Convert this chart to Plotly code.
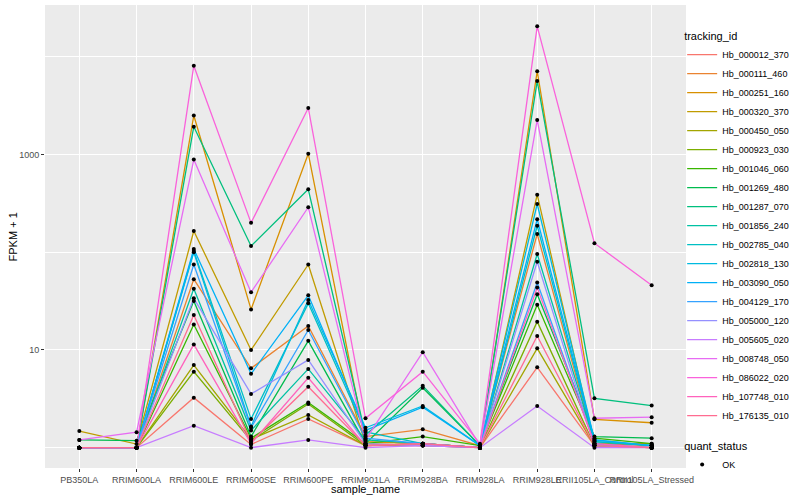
import plotly.graph_objects as go

samples = ["PB350LA", "RRIM600LA", "RRIM600LE", "RRIM600SE", "RRIM600PE", "RRIM901LA",
           "RRIM928BA", "RRIM928LA", "RRIM928LE", "RRII105LA_Control", "RRII105LA_Stressed"]

tracking_ids = ["Hb_000012_370", "Hb_000111_460", "Hb_000251_160", "Hb_000320_370", "Hb_000450_050",
                "Hb_000923_030", "Hb_001046_060", "Hb_001269_480", "Hb_001287_070", "Hb_001856_240",
                "Hb_002785_040", "Hb_002818_130", "Hb_003090_050", "Hb_004129_170", "Hb_005000_120",
                "Hb_005605_020", "Hb_008748_050", "Hb_086022_020", "Hb_107748_010", "Hb_176135_010"]

colors = ["#F8766D", "#EA8331", "#D89000", "#C09B00", "#A3A500", "#7CAE00", "#39B600", "#00BB4E",
          "#00BF7D", "#00C1A3", "#00BFC4", "#00BAE0", "#00B0F6", "#35A2FF", "#9590FF", "#C77CFF",
          "#E76BF3", "#FA62DB", "#FF62BC", "#FF6C91"]

# FPKM + 1 per sample (order of `samples`)
hb_000012_370 = [1.0, 1.0, 3.25, 1.08, 1.97, 1.05, 1.05, 1.0, 6.65, 1.05, 1.0]
hb_000111_460 = [1.0, 1.0, 53, 6.5, 17.6, 1.3, 1.54, 1.05, 154, 1.1, 1.05]
hb_000251_160 = [1.0, 1.0, 2510, 26, 1020, 1.15, 1.1, 1.0, 7130, 1.95, 1.8]
hb_000320_370 = [1.48, 1.09, 165, 10, 75, 1.1, 1.05, 1.0, 389, 1.1, 1.1]
hb_000450_050 = [1.0, 1.0, 7.0, 1.22, 2.16, 1.05, 1.1, 1.0, 10.4, 1.05, 1.0]
hb_000923_030 = [1.0, 1.0, 6.0, 1.18, 2.8, 1.05, 1.1, 1.0, 19.5, 1.05, 1.0]
hb_001046_060 = [1.0, 1.0, 18.2, 1.25, 2.9, 1.1, 1.3, 1.05, 29, 1.25, 1.1]
hb_001269_480 = [1.2, 1.18, 31.7, 1.3, 12.4, 1.1, 4.1, 1.05, 37.2, 1.3, 1.25]
hb_001287_070 = [1.0, 1.0, 1930, 116, 441, 1.35, 4.3, 1.05, 5660, 3.2, 2.7]
hb_001856_240 = [1.0, 1.0, 42.4, 1.5, 6.4, 1.2, 1.1, 1.0, 96, 1.15, 1.05]
hb_002785_040 = [1.0, 1.0, 103, 1.97, 30, 1.45, 1.1, 1.0, 187, 1.15, 1.05]
hb_002818_130 = [1.0, 1.0, 100, 1.65, 32.5, 1.6, 2.67, 1.05, 312, 1.2, 1.05]
hb_003090_050 = [1.0, 1.0, 108, 5.7, 36.3, 1.5, 2.6, 1.05, 218, 1.2, 1.05]
hb_004129_170 = [1.0, 1.0, 75, 1.6, 16, 1.25, 1.1, 1.0, 49, 1.1, 1.0]
hb_005000_120 = [1.0, 1.0, 33.8, 3.55, 7.9, 1.1, 1.05, 1.0, 80, 1.05, 1.0]
hb_005605_020 = [1.0, 1.0, 1.68, 1.0, 1.2, 1.0, 1.05, 1.0, 2.67, 1.0, 1.0]
hb_008748_050 = [1.2, 1.44, 890, 39, 289, 1.2, 9.5, 1.05, 2260, 2.0, 2.05]
hb_086022_020 = [1.0, 1.0, 8130, 200, 3000, 2.0, 6.0, 1.1, 20560, 124, 46]
hb_107748_010 = [1.0, 1.0, 11.4, 1.1, 5.2, 1.05, 1.1, 1.0, 43.5, 1.1, 1.0]
hb_176135_010 = [1.0, 1.0, 22.8, 1.14, 4.2, 1.05, 1.1, 1.0, 13.9, 1.05, 1.0]

series = [hb_000012_370, hb_000111_460, hb_000251_160, hb_000320_370, hb_000450_050,
          hb_000923_030, hb_001046_060, hb_001269_480, hb_001287_070, hb_001856_240,
          hb_002785_040, hb_002818_130, hb_003090_050, hb_004129_170, hb_005000_120,
          hb_005605_020, hb_008748_050, hb_086022_020, hb_107748_010, hb_176135_010]

FONT = "Liberation Sans"
fig = go.Figure()

for name, col, vals in zip(tracking_ids, colors, series):
    fig.add_trace(go.Scatter(
        x=samples, y=vals, mode="lines", name=name,
        line=dict(color=col, width=1.3), legend="legend"))

all_x = [s for _ in series for s in samples]
all_y = [v for vals in series for v in vals]
fig.add_trace(go.Scatter(
    x=all_x, y=all_y, mode="markers", name="OK",
    marker=dict(color="black", size=4, symbol="circle"), legend="legend2"))

fig.update_layout(
    width=800, height=500,
    margin=dict(l=45, r=114, t=5, b=32, autoexpand=False),
    plot_bgcolor="#EBEBEB", paper_bgcolor="white",
    font=dict(family=FONT, color="black"),
    xaxis=dict(
        type="category", categoryorder="array", categoryarray=samples,
        range=[-0.6, len(samples) - 0.4], automargin=False,
        showgrid=True, gridcolor="white", gridwidth=1.1,
        zeroline=False, showline=False,
        ticks="outside", ticklen=3, tickwidth=1, tickcolor="#333333",
        tickangle=0, tickfont=dict(size=9, color="#4D4D4D", family=FONT),
    ),
    yaxis=dict(
        type="log", range=[-0.208, 4.531], automargin=False,
        tickmode="array", tickvals=[10, 1000], ticktext=["10", "1000"],
        showgrid=True, gridcolor="white", gridwidth=1.1,
        minor=dict(tickmode="array", tickvals=[1, 100, 10000], showgrid=True,
                   gridcolor="white", gridwidth=0.55, ticks=""),
        zeroline=False, showline=False,
        ticks="outside", ticklen=3, tickwidth=1, tickcolor="#333333",
        tickfont=dict(size=9, color="#4D4D4D", family=FONT),
    ),
    legend=dict(
        x=0.994, xanchor="left", y=0.955, yanchor="top",
        title=dict(text="tracking_id", font=dict(size=11, family=FONT)),
        font=dict(size=9, family=FONT), bgcolor="rgba(0,0,0,0)",
        itemwidth=30, tracegroupgap=0,
    ),
    legend2=dict(
        x=0.994, xanchor="left", y=0.07, yanchor="top",
        title=dict(text="quant_status", font=dict(size=11, family=FONT)),
        font=dict(size=9, family=FONT), bgcolor="rgba(0,0,0,0)",
        itemwidth=30,
    ),
    annotations=[
        dict(text="sample_name", xref="paper", yref="paper", x=0.5, y=-0.046,
             xanchor="center", yanchor="middle", showarrow=False,
             font=dict(size=11, family=FONT, color="black")),
        dict(text="FPKM + 1", xref="paper", yref="paper", x=-0.05, y=0.5,
             xanchor="center", yanchor="middle", showarrow=False, textangle=-90,
             font=dict(size=11, family=FONT, color="black")),
    ],
)

fig.write_html("out.html", config={"displayModeBar": False},
               post_script="document.body.style.margin='0';")
